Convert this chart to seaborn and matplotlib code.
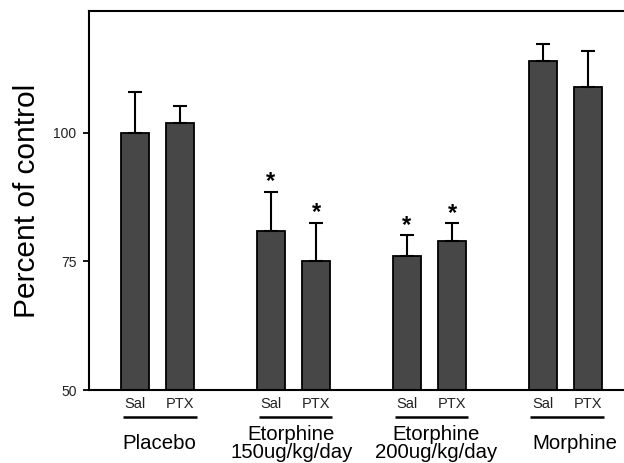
import matplotlib
matplotlib.use("Agg")
import matplotlib.pyplot as plt
import matplotlib.transforms as mtransforms
import seaborn as sns
import pandas as pd

# ---- data ----
groups = ["Placebo", "Etorphine\n150ug/kg/day", "Etorphine\n200ug/kg/day", "Morphine"]
treatments = ["Sal", "PTX"]
positions = [0, 1, 3, 4, 6, 7, 9, 10]
values = [100.0, 102.0, 81.0, 75.0, 76.0, 79.0, 114.0, 109.0]
errors = [8.0, 3.3, 7.5, 7.5, 4.1, 3.4, 3.3, 7.0]
significant = [False, False, True, True, True, True, False, False]
y_ticks = [50, 75, 100]

sns.set_theme(style="ticks")
plt.rcParams["font.family"] = ["Liberation Sans", "DejaVu Sans"]

df = pd.DataFrame({
    "pos": positions,
    "value": values,
    "treatment": treatments * len(groups),
})

fig = plt.figure(figsize=(6.24, 4.63), dpi=100)
ax = fig.add_axes([89 / 624, 73 / 463, 535 / 624, 379 / 463])

sns.barplot(data=df, x="pos", y="value", native_scale=True, width=0.62,
            color="#474747", saturation=1, edgecolor="black", linewidth=1.3,
            errorbar=None, ax=ax)

ax.errorbar(df["pos"], df["value"], yerr=[[0] * len(errors), errors],
            fmt="none", ecolor="black", elinewidth=1.5, capsize=5, capthick=1.5,
            zorder=1)

for p, v, e, s in zip(positions, values, errors, significant):
    if s:
        ax.annotate("*", xy=(p, v + e), xytext=(0, -1), textcoords="offset points",
                    ha="center", va="bottom", fontsize=17, fontweight="bold",
                    color="black")

ax.set_xlim(-1.015, 10.795)
ax.set_ylim(50, 123.7)
ax.set_yticks(y_ticks)
ax.set_yticklabels([str(t) for t in y_ticks])
ax.tick_params(axis="y", length=4, width=1.3, pad=5, labelsize=10, colors="black",
               labelcolor="#222222")
ax.set_xticks(positions)
ax.set_xticklabels(treatments * len(groups))
ax.tick_params(axis="x", length=0, pad=5, labelsize=10.5, labelcolor="#222222")

for side in ["left", "top", "bottom"]:
    ax.spines[side].set_linewidth(1.5)
    ax.spines[side].set_color("black")
ax.spines["right"].set_visible(False)

ax.set_xlabel("")
ax.set_ylabel("Percent of control", fontsize=21.5, color="black")
ax.yaxis.set_label_coords(-0.089, 0.5)

trans = mtransforms.blended_transform_factory(ax.transData, ax.transAxes)
label_x = [0.54, 3.45, 6.64, 9.72]
for gi, (g, lx) in enumerate(zip(groups, label_x)):
    start = positions[2 * gi]
    ax.plot([start - 0.27, start + 1.36], [-0.0704, -0.0704], transform=trans,
            color="black", lw=1.8, clip_on=False, solid_capstyle="butt")
    ax.text(lx, -0.1410, g, transform=trans, ha="center", va="center",
            fontsize=14.7, linespacing=0.95, color="black")

fig.savefig("out.png", dpi=100)
